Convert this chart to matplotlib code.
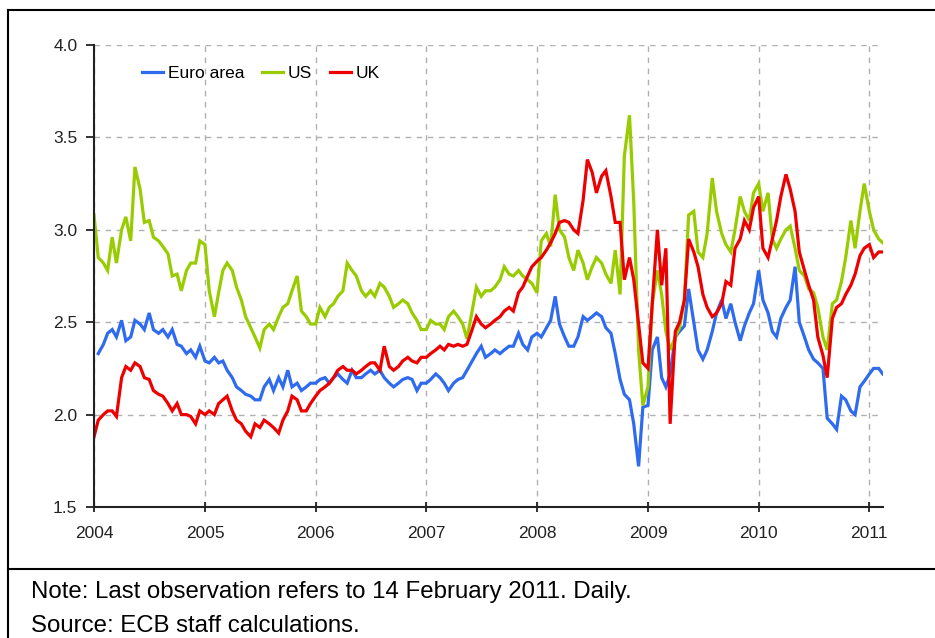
import numpy as np
import pandas as pd
import matplotlib
matplotlib.use("Agg")
import matplotlib.pyplot as plt
import matplotlib.dates as mdates
from matplotlib.lines import Line2D

plt.rcParams["font.family"] = ["Liberation Sans", "DejaVu Sans"]

# semi-monthly readings (1st and 15th of each month), last obs 14 Feb 2011
dates = list(pd.date_range("2004-01-01", "2011-02-01", freq="SMS")) + [pd.Timestamp("2011-02-14")]

euro_area = [
    np.nan, 2.33, 2.38, 2.44, 2.46, 2.42, 2.51, 2.40, 2.42, 2.51, 2.49, 2.46,
    2.55, 2.46, 2.44, 2.46, 2.42, 2.46, 2.38, 2.37, 2.33, 2.35, 2.31, 2.37,
    2.29, 2.28, 2.31, 2.28, 2.29, 2.24, 2.20, 2.15, 2.13, 2.11, 2.10, 2.08,
    2.08, 2.15, 2.19, 2.13, 2.20, 2.15, 2.24, 2.15, 2.17, 2.13, 2.15, 2.17,
    2.17, 2.19, 2.20, 2.17, 2.20, 2.22, 2.19, 2.17, 2.24, 2.20, 2.20, 2.22,
    2.24, 2.22, 2.24, 2.20, 2.17, 2.15, 2.17, 2.19, 2.20, 2.19, 2.13, 2.17,
    2.17, 2.19, 2.22, 2.20, 2.17, 2.13, 2.17, 2.19, 2.20, 2.24, 2.29, 2.33,
    2.37, 2.31, 2.33, 2.35, 2.33, 2.35, 2.37, 2.37, 2.44, 2.38, 2.35, 2.42,
    2.44, 2.42, 2.47, 2.51, 2.64, 2.49, 2.42, 2.37, 2.37, 2.42, 2.53, 2.51,
    2.53, 2.55, 2.53, 2.47, 2.44, 2.33, 2.19, 2.11, 2.08, 1.95, 1.72, 2.04,
    2.05, 2.35, 2.42, 2.20, 2.15, 2.22, 2.42, 2.45, 2.48, 2.68, 2.50, 2.35,
    2.30, 2.35, 2.45, 2.55, 2.62, 2.52, 2.60, 2.50, 2.40, 2.48, 2.55, 2.60,
    2.78, 2.62, 2.55, 2.45, 2.42, 2.52, 2.58, 2.62, 2.80, 2.50, 2.42, 2.35,
    2.30, 2.28, 2.25, 1.98, 1.95, 1.92, 2.10, 2.08, 2.02, 2.00, 2.15, 2.18,
    2.22, 2.25, 2.25, 2.22,
]
us = [
    3.08, 2.85, 2.82, 2.78, 2.96, 2.82, 3.00, 3.07, 2.94, 3.34, 3.22, 3.04,
    3.05, 2.96, 2.94, 2.91, 2.87, 2.75, 2.76, 2.67, 2.78, 2.82, 2.82, 2.94,
    2.92, 2.67, 2.53, 2.66, 2.78, 2.82, 2.78, 2.69, 2.62, 2.53, 2.47, 2.42,
    2.36, 2.46, 2.49, 2.46, 2.53, 2.58, 2.60, 2.67, 2.75, 2.56, 2.53, 2.49,
    2.49, 2.58, 2.53, 2.58, 2.60, 2.64, 2.67, 2.82, 2.78, 2.75, 2.67, 2.64,
    2.67, 2.64, 2.71, 2.69, 2.64, 2.58, 2.60, 2.62, 2.60, 2.55, 2.51, 2.46,
    2.46, 2.51, 2.49, 2.49, 2.46, 2.53, 2.56, 2.53, 2.49, 2.41, 2.56, 2.69,
    2.64, 2.67, 2.67, 2.69, 2.73, 2.80, 2.76, 2.75, 2.78, 2.75, 2.73, 2.71,
    2.66, 2.94, 2.98, 2.91, 3.19, 3.00, 2.96, 2.85, 2.78, 2.89, 2.82, 2.73,
    2.80, 2.85, 2.82, 2.76, 2.71, 2.89, 2.65, 3.40, 3.62, 3.15, 2.35, 2.05,
    2.15, 2.60, 2.78, 2.65, 2.45, 2.35, 2.42, 2.47, 2.62, 3.08, 3.10, 2.88,
    2.85, 2.98, 3.28, 3.10, 2.98, 2.92, 2.88, 3.00, 3.18, 3.10, 3.05, 3.20,
    3.25, 3.10, 3.20, 2.95, 2.90, 2.95, 3.00, 3.02, 2.90, 2.78, 2.75, 2.68,
    2.66, 2.58, 2.42, 2.35, 2.60, 2.62, 2.72, 2.85, 3.05, 2.90, 3.10, 3.25,
    3.10, 3.00, 2.95, 2.93,
]
uk = [
    1.88, 1.97, 2.00, 2.02, 2.02, 1.99, 2.20, 2.26, 2.24, 2.28, 2.26, 2.20,
    2.19, 2.13, 2.11, 2.10, 2.06, 2.02, 2.06, 2.00, 2.00, 1.99, 1.95, 2.02,
    2.00, 2.02, 2.00, 2.06, 2.08, 2.10, 2.02, 1.97, 1.95, 1.91, 1.88, 1.95,
    1.93, 1.97, 1.95, 1.93, 1.90, 1.97, 2.02, 2.10, 2.08, 2.02, 2.02, 2.06,
    2.10, 2.13, 2.15, 2.17, 2.20, 2.24, 2.26, 2.24, 2.24, 2.22, 2.24, 2.26,
    2.28, 2.28, 2.24, 2.37, 2.26, 2.24, 2.26, 2.29, 2.31, 2.29, 2.28, 2.31,
    2.31, 2.33, 2.35, 2.37, 2.35, 2.38, 2.37, 2.38, 2.37, 2.38, 2.46, 2.53,
    2.49, 2.47, 2.49, 2.51, 2.53, 2.56, 2.58, 2.56, 2.66, 2.69, 2.75, 2.80,
    2.83, 2.85, 2.89, 2.93, 2.98, 3.04, 3.05, 3.04, 3.00, 2.98, 3.16, 3.38,
    3.31, 3.20, 3.29, 3.32, 3.18, 3.04, 3.04, 2.73, 2.85, 2.73, 2.49, 2.28,
    2.25, 2.60, 3.00, 2.70, 2.90, 1.95, 2.45, 2.50, 2.62, 2.95, 2.88, 2.80,
    2.65, 2.58, 2.53, 2.55, 2.60, 2.72, 2.70, 2.90, 2.95, 3.05, 3.00, 3.12,
    3.18, 2.90, 2.85, 2.95, 3.05, 3.18, 3.30, 3.22, 3.10, 2.88, 2.78, 2.70,
    2.62, 2.42, 2.32, 2.20, 2.52, 2.58, 2.60, 2.65, 2.70, 2.76, 2.86, 2.90,
    2.92, 2.85, 2.88, 2.88,
]

series_names = ["Euro area", "US", "UK"]
series_colors = ["#2f6bef", "#99cc00", "#ee0000"]
year_ticks = list(range(2004, 2012))
y_ticks = [1.5, 2.0, 2.5, 3.0, 3.5, 4.0]

W, H = 935, 638
fig = plt.figure(figsize=(W / 100, H / 100), dpi=100)
ax = fig.add_axes([94 / W, 1 - 507 / H, (883 - 94) / W, (507 - 45) / H])

for name, vals, col in zip(series_names, [euro_area, us, uk], series_colors):
    ax.plot(dates, vals, color=col, lw=2.3, label=name, solid_joinstyle="miter")

ax.set_xlim(pd.Timestamp("2004-01-01"), pd.Timestamp("2011-02-15"))
ax.set_ylim(1.5, 4.0)
ax.set_xticks([pd.Timestamp(f"{y}-01-01") for y in year_ticks])
ax.xaxis.set_major_formatter(mdates.DateFormatter("%Y"))
ax.set_yticks(y_ticks)
ax.set_yticklabels([f"{v:.1f}" for v in y_ticks])

ax.grid(True, color="#b0b0b0", lw=1, linestyle=(0, (4, 4)))
ax.set_axisbelow(True)
for side in ["top", "right"]:
    ax.spines[side].set_visible(False)
for side in ["left", "bottom"]:
    ax.spines[side].set_linewidth(1.5)
    ax.spines[side].set_color("#222222")
ax.tick_params(axis="x", direction="inout", length=7, width=1.3, labelsize=12.5,
               pad=10, colors="#222222")
ax.tick_params(axis="y", direction="out", length=6, width=1.3, labelsize=12.5,
               pad=6, colors="#222222")

ax.legend(loc="upper left", bbox_to_anchor=(0.061, 0.954), ncol=3, frameon=False,
          fontsize=12.5, handlelength=1.2, handletextpad=0.3, columnspacing=1.0,
          borderaxespad=0, borderpad=0)

# outer frame and note separator
fx = 8 / W
fig.add_artist(Line2D([fx, fx], [0, 1 - 10 / H], transform=fig.transFigure, color="black", lw=1.5))
fig.add_artist(Line2D([fx, 1], [1 - 10 / H, 1 - 10 / H], transform=fig.transFigure, color="black", lw=1.5))
fig.add_artist(Line2D([fx, 1], [1 - 569 / H, 1 - 569 / H], transform=fig.transFigure, color="black", lw=1.5))

fig.text(31 / W, 1 - 592 / H, "Note: Last observation refers to 14 February 2011. Daily.",
         fontsize=17.3, va="center", ha="left", color="black")
fig.text(31 / W, 1 - 626 / H, "Source: ECB staff calculations.",
         fontsize=17.3, va="center", ha="left", color="black")

fig.savefig("out.png", dpi=100)
